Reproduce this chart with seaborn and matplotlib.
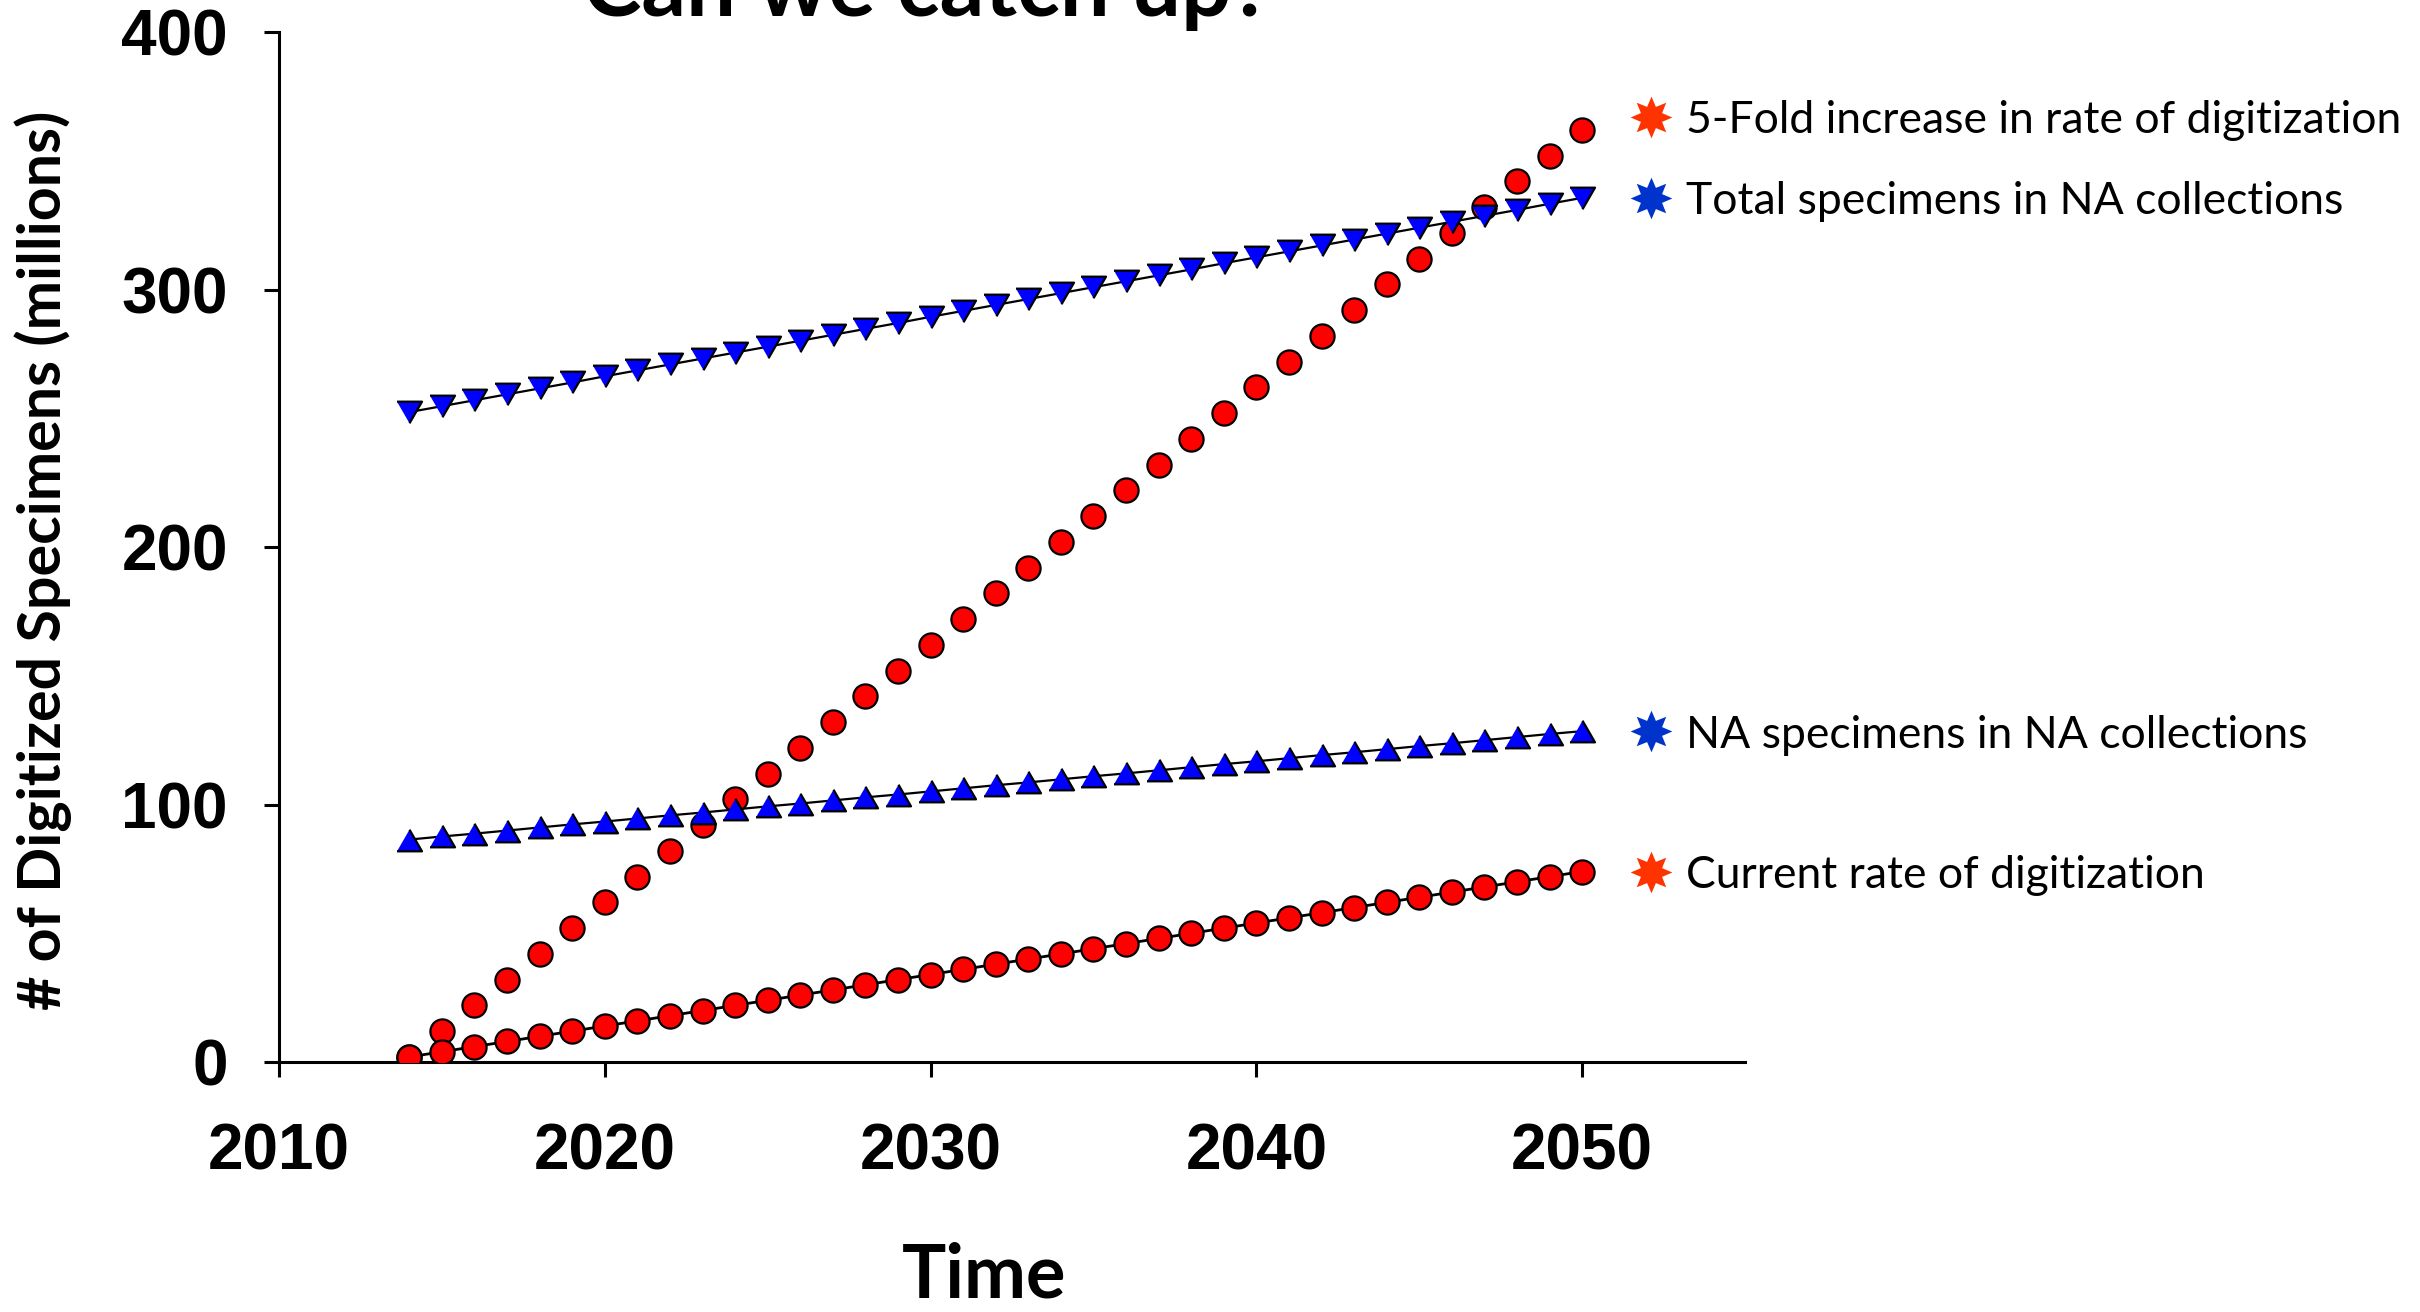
import numpy as np
import pandas as pd
import matplotlib
matplotlib.use('Agg')
import matplotlib.pyplot as plt
from matplotlib.path import Path
import seaborn as sns

# values (millions of specimens)
years = list(range(2014, 2051))

current_rate = [2, 4, 6, 8, 10, 12, 14, 16, 18, 20, 22, 24, 26, 28, 30, 32, 34, 36, 38,
                40, 42, 44, 46, 48, 50, 52, 54, 56, 58, 60, 62, 64, 66, 68, 70, 72, 74]

five_fold = [2, 12, 22, 32, 42, 52, 62, 72, 82, 92, 102, 112, 122, 132, 142, 152, 162, 172, 182,
             192, 202, 212, 222, 232, 242, 252, 262, 272, 282, 292, 302, 312, 322, 332, 342, 352, 362]

na_specimens = [86.4, 87.6, 88.7, 89.9, 91.1, 92.3, 93.4, 94.6, 95.8, 96.9, 98.1, 99.3, 100.4,
                101.6, 102.8, 103.9, 105.1, 106.3, 107.5, 108.6, 109.8, 111.0, 112.1, 113.3, 114.5,
                115.7, 116.8, 118.0, 119.2, 120.3, 121.5, 122.7, 123.8, 125.0, 126.2, 127.4, 128.5]

total_specimens = [252.4, 254.7, 257.0, 259.3, 261.6, 263.9, 266.3, 268.6, 270.9, 273.2, 275.5,
                   277.8, 280.1, 282.4, 284.7, 287.0, 289.4, 291.7, 294.0, 296.3, 298.6, 300.9,
                   303.2, 305.5, 307.8, 310.2, 312.5, 314.8, 317.1, 319.4, 321.7, 324.0, 326.3,
                   328.6, 330.9, 333.3, 335.6]

x_ticks = [2010, 2020, 2030, 2040, 2050]
y_ticks = [0, 100, 200, 300, 400]

label_names = ['5-Fold increase in rate of digitization',
               'Total specimens in NA collections',
               'NA specimens in NA collections',
               'Current rate of digitization']

df = pd.DataFrame({'year': years, 'current': current_rate, 'five': five_fold,
                   'na': na_specimens, 'total': total_specimens})

sns.set_theme(style='ticks')
plt.rcParams['font.family'] = ['Lato', 'DejaVu Sans']
plt.rcParams['text.color'] = 'black'

fig = plt.figure(figsize=(12.1, 6.56), dpi=200)
ax = fig.add_axes([0.1153, 0.1905, 0.6058, 0.7851])

up_tri = np.array([(-1, -0.866), (1, -0.866), (0, 0.866)])
down_tri = np.array([(-1, 0.866), (1, 0.866), (0, -0.866)])
star8 = Path.unit_regular_star(8, 0.55)

# 5-fold scenario: markers only
sns.scatterplot(data=df, x='year', y='five', marker='o', s=8.7 ** 2, color='#FF0000',
                edgecolor='black', linewidth=0.8, ax=ax, zorder=2)

# current rate: red circles joined by a black line
sns.lineplot(data=df, x='year', y='current', color='black', lw=1.0, errorbar=None,
             marker='o', markersize=8.7, markerfacecolor='#FF0000',
             markeredgecolor='black', markeredgewidth=0.8, ax=ax, zorder=3)

# specimen totals: blue triangles
sns.lineplot(data=df, x='year', y='total', color='black', lw=0.8, errorbar=None,
             marker=down_tri, markersize=9.0, markerfacecolor='#0000FF',
             markeredgecolor='black', markeredgewidth=0.8, ax=ax, zorder=4)
sns.lineplot(data=df, x='year', y='na', color='black', lw=0.8, errorbar=None,
             marker=up_tri, markersize=9.0, markerfacecolor='#0000FF',
             markeredgecolor='black', markeredgewidth=0.8, ax=ax, zorder=4)

# star labels next to the series ends
end_vals = [five_fold[-1] + 5, total_specimens[-1], na_specimens[-1], current_rate[-1]]
star_cols = ['#FF3300', '#0033CC', '#0033CC', '#FF3300']
for name, yv, col in zip(label_names, end_vals, star_cols):
    ax.plot([years[-1] + 2.1], [yv], marker=star8, ms=15, color=col,
            mec=col, mew=0, clip_on=False, zorder=5)
    ax.text(years[-1] + 3.2, yv - 1.5, name, ha='left', va='center', fontsize=16,
            color='black', clip_on=False)

ax.set_xlim(2010, 2055)
ax.set_ylim(0, 400)
ax.set_xticks(x_ticks)
ax.set_yticks(y_ticks)
ax.set_xlabel('')
ax.set_ylabel('')

for side in ['top', 'right']:
    ax.spines[side].set_visible(False)
for side in ['left', 'bottom']:
    ax.spines[side].set_linewidth(1.1)
    ax.spines[side].set_color('black')

ax.tick_params(axis='both', direction='out', length=5.4, width=1.1, color='black',
               labelsize=23, labelcolor='black')
ax.tick_params(axis='x', pad=16.5)
ax.tick_params(axis='y', pad=13)
for lab in ax.get_xticklabels() + ax.get_yticklabels():
    lab.set_fontfamily(['Liberation Sans', 'DejaVu Sans'])
    lab.set_fontweight('bold')

fig.text(43 / 2420, 1 - 560 / 1312, '# of Digitized Specimens (millions)', rotation=90,
         ha='center', va='center', fontsize=21.3, fontweight='bold', color='black')
fig.text(984 / 2420, 1 - 1297 / 1312, 'Time', ha='center', va='baseline',
         fontsize=26.6, fontweight='bold', color='black')
# the title sits partly above the top edge in the reference
fig.text(928 / 2420, 1 - 16 / 1312, 'Can we catch up?', ha='center', va='baseline',
         fontsize=31.8, fontweight='bold', color='black')

fig.savefig('out.png', dpi=200)
